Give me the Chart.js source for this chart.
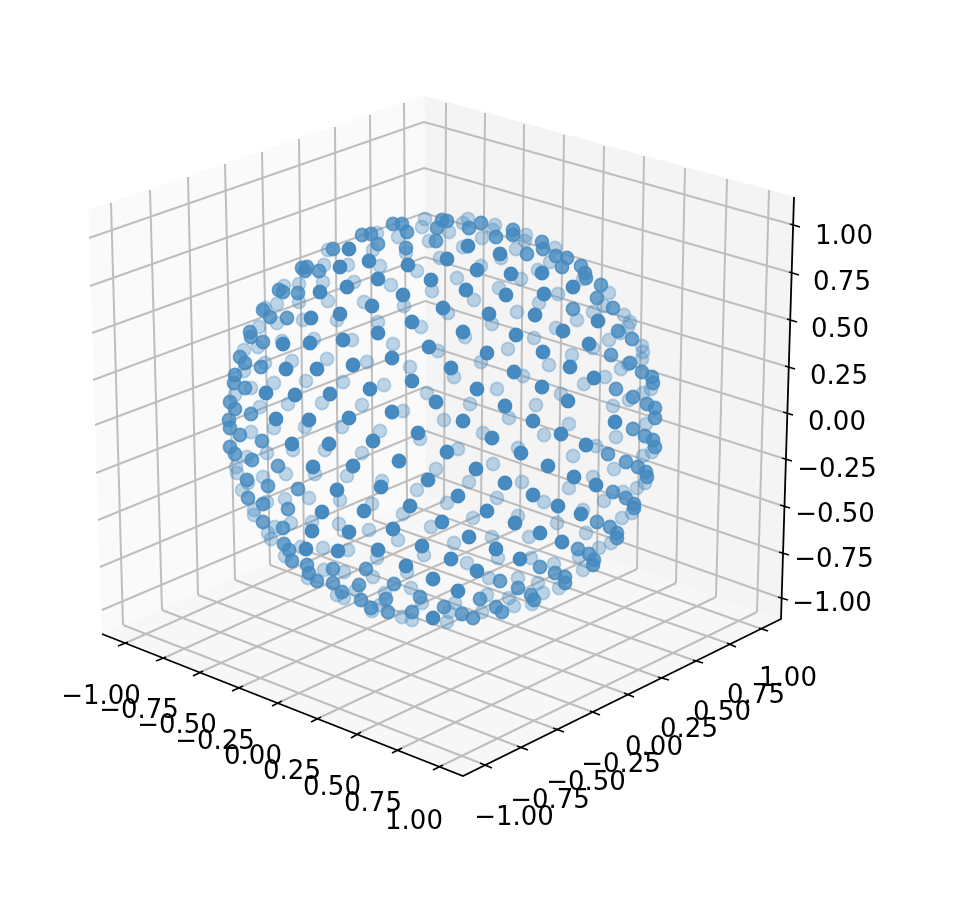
<!DOCTYPE html>
<html>
<head>
	<title>Points on a sphere</title>
	<style>
		body { margin: 0; background: #fff; }
		#sphereChart { display: block; }
	</style>
</head>
<body>
<canvas id="sphereChart" width="966" height="908"></canvas>
<script src="https://cdn.jsdelivr.net/npm/chart.js@4/dist/chart.umd.min.js"></script>
<script>
// everything is given in the projected view plane of the 3D box
var VIEW_W = 966, VIEW_H = 908;

// sphere points, nearest to the viewer first
var nearX = [408,431,403,412,429,392,412,436,392,378,369,349,340,347,372,378,353,370,343,340,320,311,283,310,317,286,266,295,330,
	468,500,447,542,511,477,466,506,544,573,598,589,594,535,563,516,489,443,463,487,543,570,514,451,477,542,568,505,
	309,276,349,292,329,373,418,313,353,399,337,322,364,381,428,410,393,349,312,306,338,378,422,406,433,433,
	463,533,615,492,561,586,447,521,476,548,574,596,505,533,458,487,558,581,515,442,540,469,496,562,451,520,477,458];
var nearY = [265,280,295,322,347,358,381,402,412,279,261,249,267,287,306,333,365,389,340,314,292,318,344,343,369,369,393,395,394,
	246,254,259,273,274,270,290,295,294,287,321,344,378,315,331,335,314,308,332,353,352,367,372,368,389,387,401,406,
	420,419,418,444,444,441,433,467,466,461,490,512,511,487,480,506,529,532,531,549,551,550,546,566,618,579,
	421,421,422,438,434,445,452,453,469,466,477,485,483,495,496,511,506,514,523,522,533,537,549,542,559,559,571,591];

var midX = [393,402,407,437,436,406,378,371,362,333,319,307,302,305,298,279,283,287,263,270,250,251,263,261,240,245,235,234,245,230,235,251,
	447,442,469,481,496,513,513,527,543,542,556,567,562,581,585,586,601,597,613,573,618,632,611,630,642,652,653,616,633,647,655,
	229,230,240,262,230,235,252,278,247,268,298,288,248,263,263,283,284,289,292,307,309,317,333,366,333,342,359,394,361,386,371,388,420,412,
	633,655,645,653,655,608,626,638,646,647,613,626,634,634,597,610,617,617,578,589,594,593,540,555,565,565,500,518,531,534,480,496,502,444,473,462];
var midY = [224,224,232,228,241,248,244,234,235,249,271,267,268,271,293,290,292,318,310,317,332,337,342,367,357,363,375,383,388,402,409,414,
	221,220,228,223,237,230,235,254,249,242,256,258,267,266,273,278,285,298,308,309,331,339,355,363,372,377,383,389,397,404,408,
	420,428,435,441,447,454,460,466,480,486,489,509,498,504,522,528,544,550,561,565,573,581,569,569,583,592,585,584,600,599,608,612,597,612,
	429,418,436,440,447,454,462,467,472,477,492,498,504,508,522,527,533,538,549,554,560,565,567,573,577,583,581,588,595,600,599,607,612,607,618,614];

var farX = [425,422,429,440,398,406,417,432,404,421,438,410,427,403,391,380,373,377,328,348,354,364,378,393,367,384,362,352,337,324,323,328,299,299,284,277,303,265,277,259,258,282,314,327,292,265,244,244,251,274,288,306,343,322,260,235,
	463,468,449,495,493,482,463,501,526,525,516,555,550,583,538,521,481,457,474,499,558,539,609,604,593,577,624,630,628,620,609,642,643,642,593,628,621,651,643,605,584,629,517,556,534,492,448,465,508,481,572,549,523,454,497,561,536,470,613,
	251,293,325,380,420,342,305,274,267,247,286,315,347,362,436,236,237,248,263,340,309,285,242,267,254,254,372,382,417,403,431,398,369,339,312,291,275,268,271,285,301,323,348,377,424,407,373,324,344,308,337,344,356,411,385,380,372,422,402,412,
	444,509,569,646,483,544,616,652,643,596,458,518,573,614,493,645,637,593,569,469,522,544,447,497,623,604,632,622,583,611,586,557,518,473,529,492,454,498,599,579,583,467,531,554,559,489,518,538,543,532,487,509,514,455,449,482,447];
var farY = [219,227,241,258,237,253,271,291,306,327,351,367,393,411,285,266,250,233,250,265,282,302,322,344,362,385,405,340,320,265,282,301,284,302,286,304,320,308,323,327,347,341,339,359,361,363,350,371,388,383,404,381,382,403,407,395,
	223,219,232,225,230,238,247,258,235,241,249,248,262,279,270,279,266,278,300,288,294,303,293,306,312,320,315,322,327,333,340,346,352,359,348,364,369,389,393,377,384,400,312,328,338,324,313,337,349,362,355,365,376,377,389,394,405,404,406,
	432,450,450,431,439,427,427,428,453,457,474,474,476,453,469,467,473,483,477,500,498,499,490,502,510,515,504,481,490,514,527,540,530,524,522,523,527,533,539,556,547,548,550,558,555,572,577,570,572,578,595,598,590,588,593,605,611,603,617,620,
	420,418,424,424,433,435,437,452,456,446,449,448,456,469,464,483,488,477,488,482,482,502,503,498,492,501,513,518,510,543,533,523,516,518,537,537,543,558,548,557,570,563,558,564,588,578,578,583,593,604,595,598,606,603,612,612,622];

// tick label text, same for all three axes
var tickLabels = ['\u22121.00','\u22120.75','\u22120.50','\u22120.25','0.00','0.25','0.50','0.75','1.00'];

// label centres along each axis
var xLabelX = [101,139,177,215,253,292,332,373,414];
var xLabelY = [697,711,726,742,757,772,788,804,822];
var yLabelX = [514,550,586,621,654,689,722,756,788];
var yLabelY = [818,801,783,765,748,730,713,696,679];
var zLabelX = [832,834,835,837,837,839,840,842,844];
var zLabelY = [604,560,515,470,423,377,330,283,237];

// box corners
var cornerX = { left: 89, back: 424, right: 794, leftFoot: 102, backFoot: 426, rightFoot: 781, front: 463 };
var cornerY = { left: 210, back: 96, right: 197, leftFoot: 634, backFoot: 495, rightFoot: 619, front: 776 };

// grid line ends on the walls and the floor
var leftTopX = [111,150,188,225,262,299,335,370,404];
var leftTopY = [203,190,177,164,152,139,127,115,103];
var leftFootX = [123,162,198,235,270,304,338,373,407];
var leftFootY = [625,610,595,580,565,550,535,520,504];
var rightTopX = [446,485,524,564,604,644,685,727,769];
var rightTopY = [103,113,124,135,146,156,168,179,190];
var rightFootX = [444,481,520,558,597,637,676,716,757];
var rightFootY = [501,514,528,541,555,569,583,597,612];
var zLeftX = [89,90,92,93,95,96,98,100,102];
var zLeftY = [238,286,333,380,425,473,520,567,610];
var zBackX = [424,424,424,425,425,425,425,426,426];
var zBackY = [122,168,213,257,301,345,387,431,473];

// tick marks, inner and outer ends
var zTickInX = [790,789,787,785,783,782,780,779,778];
var zTickInY = [224,272,319,366,412,458,505,552,597];
var zTickOutX = [800,799,797,795,793,792,790,789,788];
var zTickOutY = [227,275,322,369,415,461,508,555,600];
var xTickInX = [128,166,203,243,282,321,361,402,443];
var xTickInY = [642,657,671,686,701,717,732,748,765];
var xTickOutX = [118,156,193,232,272,311,351,392,433];
var xTickOutY = [646,661,676,691,706,722,738,753,770];
var yTickInX = [480,517,553,590,624,658,693,727,759];
var yTickInY = [763,746,728,711,693,677,660,643,628];
var yTickOutX = [492,528,564,600,634,669,703,736,768];
var yTickOutY = [768,750,732,715,697,680,663,647,631];

function toPoints(xs, ys) {
	return xs.map(function (x, i) { return { x: x, y: ys[i] }; });
}

function pane(names, colour) {
	var xs = names.map(function (n) { return cornerX[n]; });
	var ys = names.map(function (n) { return cornerY[n]; });
	return {
		data: toPoints(xs, ys), showLine: true, fill: 'shape', backgroundColor: colour,
		borderColor: colour, borderWidth: 1, pointRadius: 0, tension: 0, order: 9
	};
}

function lines(x1, y1, x2, y2, colour, width, order) {
	return x1.map(function (x, i) {
		return {
			data: [{ x: x, y: y1[i] }, { x: x2[i], y: y2[i] }], showLine: true, fill: false,
			borderColor: colour, borderWidth: width, pointRadius: 0, order: order
		};
	});
}

function sphere(xs, ys, alpha, order) {
	return {
		data: toPoints(xs, ys), showLine: false, pointRadius: 6.6, pointBorderWidth: 1.6,
		pointBackgroundColor: 'rgba(68,137,191,' + alpha + ')',
		pointBorderColor: 'rgba(68,137,191,' + alpha + ')',
		order: order
	};
}

var GRID = 'rgb(190,190,190)';
var datasets = [
	sphere(nearX, nearY, 0.98, 1),
	sphere(midX, midY, 0.78, 2),
	sphere(farX, farY, 0.33, 3),
	pane(['left', 'back', 'backFoot', 'leftFoot', 'left'], '#fafafa'),
	pane(['back', 'right', 'rightFoot', 'backFoot', 'back'], '#f4f4f4'),
	pane(['leftFoot', 'backFoot', 'rightFoot', 'front', 'leftFoot'], '#f7f7f7'),
	{
		data: [{ x: cornerX.leftFoot, y: cornerY.leftFoot }, { x: cornerX.front, y: cornerY.front }, { x: cornerX.rightFoot, y: cornerY.rightFoot }, { x: cornerX.right, y: cornerY.right }],
		showLine: true, fill: false, borderColor: '#000', borderWidth: 1.8, pointRadius: 0, order: 4
	}
].concat(
	lines(leftTopX, leftTopY, leftFootX, leftFootY, GRID, 2, 5),
	lines(rightTopX, rightTopY, rightFootX, rightFootY, GRID, 2, 5),
	lines(zLeftX, zLeftY, zBackX, zBackY, GRID, 2, 5),
	lines(zBackX, zBackY, zTickInX, zTickInY, GRID, 2, 5),
	lines(xTickInX, xTickInY, rightFootX, rightFootY, GRID, 2, 5),
	lines(yTickInX, yTickInY, leftFootX, leftFootY, GRID, 2, 5),
	lines(zTickInX, zTickInY, zTickOutX, zTickOutY, '#000', 1.8, 4),
	lines(xTickInX, xTickInY, xTickOutX, xTickOutY, '#000', 1.8, 4),
	lines(yTickInX, yTickInY, yTickOutX, yTickOutY, '#000', 1.8, 4)
);

// tick labels sit on the same scales as the marks
var axisLabels = {
	id: 'axisLabels',
	afterDatasetsDraw: function (chart) {
		var c = chart.ctx, sx = chart.scales.x, sy = chart.scales.y;
		c.save();
		c.font = '26px "DejaVu Sans"';
		c.fillStyle = '#000';
		c.textAlign = 'center';
		c.textBaseline = 'middle';
		[[xLabelX, xLabelY], [yLabelX, yLabelY], [zLabelX, zLabelY]].forEach(function (pos) {
			tickLabels.forEach(function (t, i) {
				c.fillText(t, sx.getPixelForValue(pos[0][i]), sy.getPixelForValue(pos[1][i]));
			});
		});
		c.restore();
	}
};

new Chart(document.getElementById('sphereChart').getContext('2d'), {
	type: 'scatter',
	data: { datasets: datasets },
	plugins: [axisLabels],
	options: {
		responsive: false,
		animation: false,
		events: [],
		layout: { padding: 0, autoPadding: false },
		plugins: { legend: { display: false }, tooltip: { enabled: false } },
		scales: {
			x: { type: 'linear', min: 0, max: VIEW_W, display: false },
			y: { type: 'linear', min: 0, max: VIEW_H, reverse: true, display: false }
		}
	}
});
</script>
</body>
</html>
